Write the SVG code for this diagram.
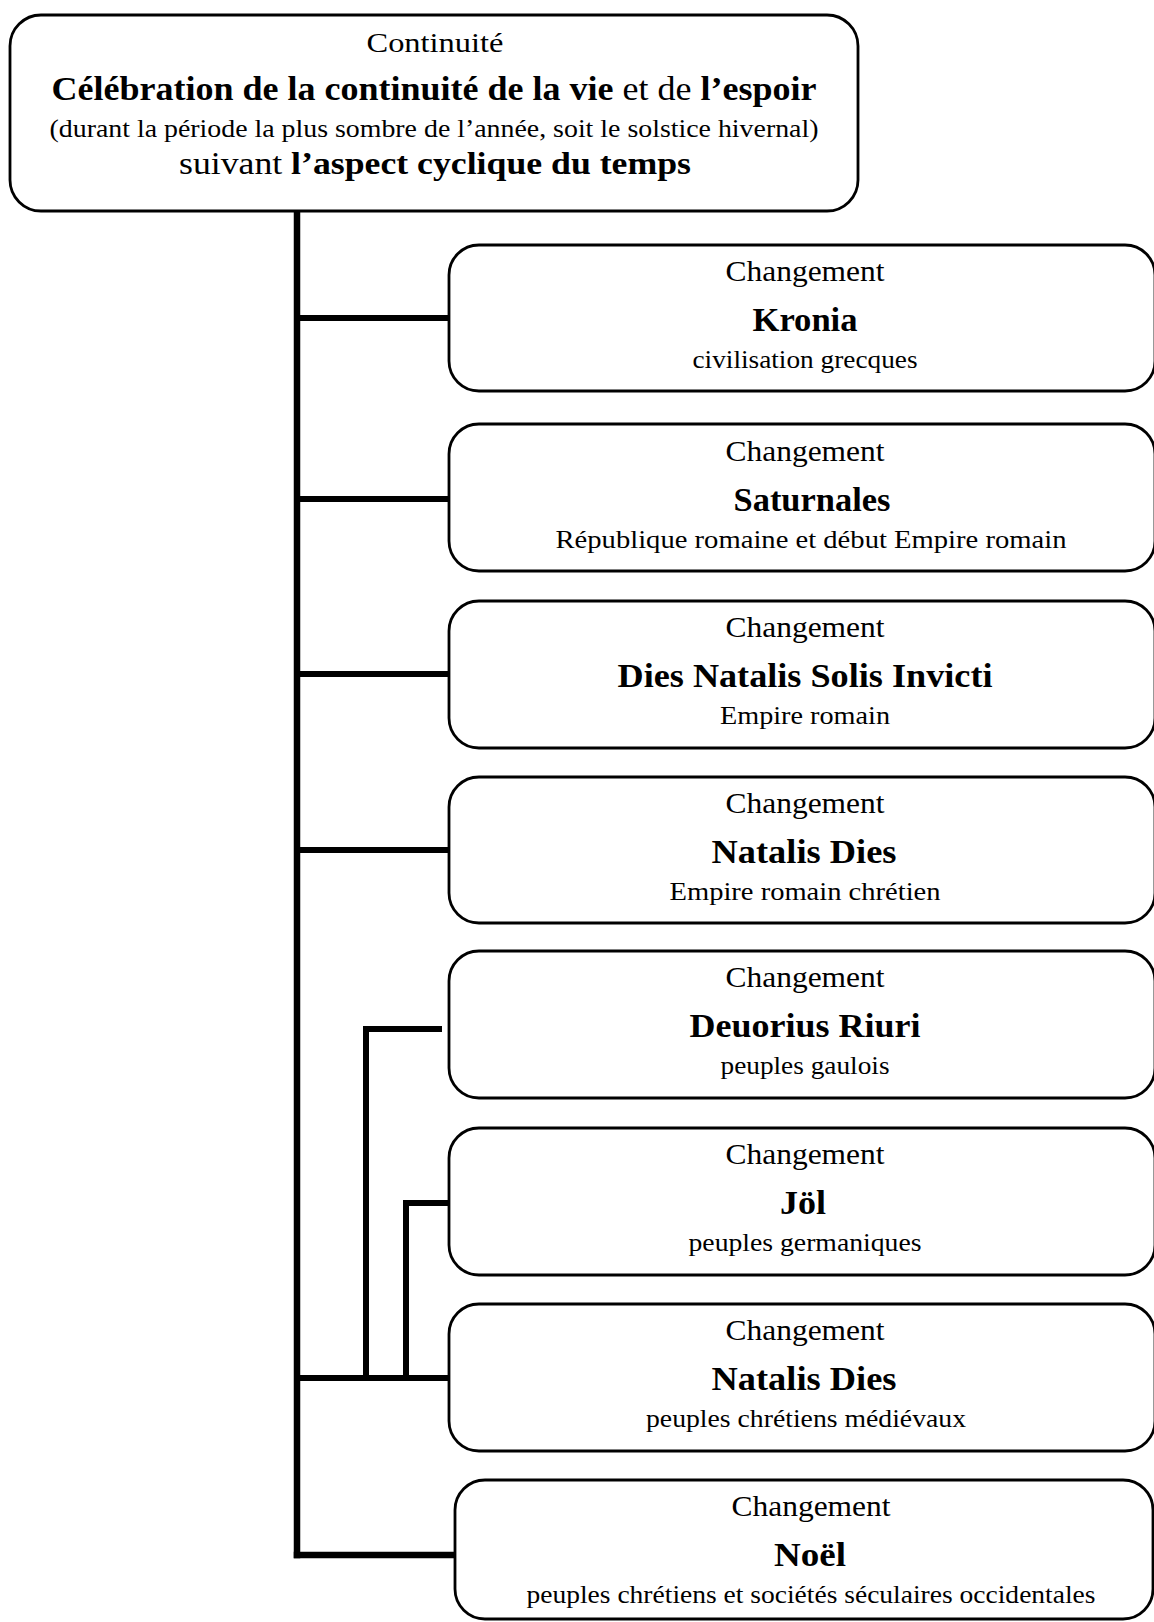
<svg xmlns="http://www.w3.org/2000/svg" width="1154" height="1622" viewBox="0 0 1154 1622">
<style>
.box{fill:#fff;stroke:#000;stroke-width:2.8}
text{font-family:"Liberation Serif","Times New Roman",serif;fill:#000;text-anchor:middle}
.ch{font-size:29px}
.ti{font-size:33px;font-weight:bold}
.su{font-size:26px}
.b{font-weight:bold}
.con{stroke:#000;fill:none;stroke-linecap:square}
</style>
<rect width="1154" height="1622" fill="#fff"/>
<g id="connectors" class="con">
<line x1="297" y1="211" x2="297" y2="1555" stroke-width="6.5"/>
<line x1="297" y1="318" x2="448" y2="318" stroke-width="6"/>
<line x1="297" y1="499" x2="448" y2="499" stroke-width="6"/>
<line x1="297" y1="674" x2="448" y2="674" stroke-width="6"/>
<line x1="297" y1="850" x2="448" y2="850" stroke-width="6"/>
<line x1="297" y1="1378" x2="448" y2="1378" stroke-width="6"/>
<line x1="297" y1="1555" x2="454" y2="1555" stroke-width="6.5"/>
<polyline points="366,1378 366,1029 442,1029" stroke-width="6" stroke-linecap="butt"/>
<polyline points="406,1378 406,1203 448,1203" stroke-width="6" stroke-linecap="butt"/>
</g>
<g id="n0">
<rect class="box" x="10" y="15" width="848" height="196" rx="31"/>
<text x="435" y="52" style="font-size:27px" textLength="137" lengthAdjust="spacingAndGlyphs">Continuité</text>
<text x="434" y="100" style="font-size:33px" textLength="765" lengthAdjust="spacingAndGlyphs"><tspan class="b">Célébration de la continuité de la vie</tspan> et de <tspan class="b">l’espoir</tspan></text>
<text x="434" y="137" style="font-size:25px" textLength="769" lengthAdjust="spacingAndGlyphs">(durant la période la plus sombre de l’année, soit le solstice hivernal)</text>
<text x="435" y="174" style="font-size:31px" textLength="512" lengthAdjust="spacingAndGlyphs">suivant <tspan class="b">l’aspect cyclique du temps</tspan></text>
</g>
<g id="n1">
<rect class="box" x="449" y="245" width="706" height="146" rx="30"/>
<text class="ch" x="805" y="281" textLength="159" lengthAdjust="spacingAndGlyphs">Changement</text>
<text class="ti" x="805" y="331" textLength="105" lengthAdjust="spacingAndGlyphs">Kronia</text>
<text class="su" x="805" y="368" textLength="225" lengthAdjust="spacingAndGlyphs">civilisation grecques</text>
</g>
<g id="n2">
<rect class="box" x="449" y="424" width="706" height="147" rx="30"/>
<text class="ch" x="805" y="461" textLength="159" lengthAdjust="spacingAndGlyphs">Changement</text>
<text class="ti" x="812" y="511" textLength="157" lengthAdjust="spacingAndGlyphs">Saturnales</text>
<text class="su" x="811" y="548" textLength="511" lengthAdjust="spacingAndGlyphs">République romaine et début Empire romain</text>
</g>
<g id="n3">
<rect class="box" x="449" y="601" width="706" height="147" rx="30"/>
<text class="ch" x="805" y="637" textLength="159" lengthAdjust="spacingAndGlyphs">Changement</text>
<text class="ti" x="805" y="687" textLength="375" lengthAdjust="spacingAndGlyphs">Dies Natalis Solis Invicti</text>
<text class="su" x="805" y="724" textLength="170" lengthAdjust="spacingAndGlyphs">Empire romain</text>
</g>
<g id="n4">
<rect class="box" x="449" y="777" width="706" height="146" rx="30"/>
<text class="ch" x="805" y="813" textLength="159" lengthAdjust="spacingAndGlyphs">Changement</text>
<text class="ti" x="804" y="863" textLength="185" lengthAdjust="spacingAndGlyphs">Natalis Dies</text>
<text class="su" x="805" y="900" textLength="271" lengthAdjust="spacingAndGlyphs">Empire romain chrétien</text>
</g>
<g id="n5">
<rect class="box" x="449" y="951" width="706" height="147" rx="30"/>
<text class="ch" x="805" y="987" textLength="159" lengthAdjust="spacingAndGlyphs">Changement</text>
<text class="ti" x="805" y="1037" textLength="231" lengthAdjust="spacingAndGlyphs">Deuorius Riuri</text>
<text class="su" x="805" y="1074" textLength="169" lengthAdjust="spacingAndGlyphs">peuples gaulois</text>
</g>
<g id="n6">
<rect class="box" x="449" y="1128" width="706" height="147" rx="30"/>
<text class="ch" x="805" y="1164" textLength="159" lengthAdjust="spacingAndGlyphs">Changement</text>
<text class="ti" x="803" y="1214" textLength="46" lengthAdjust="spacingAndGlyphs">Jöl</text>
<text class="su" x="805" y="1251" textLength="233" lengthAdjust="spacingAndGlyphs">peuples germaniques</text>
</g>
<g id="n7">
<rect class="box" x="449" y="1304" width="706" height="147" rx="30"/>
<text class="ch" x="805" y="1340" textLength="159" lengthAdjust="spacingAndGlyphs">Changement</text>
<text class="ti" x="804" y="1390" textLength="185" lengthAdjust="spacingAndGlyphs">Natalis Dies</text>
<text class="su" x="806" y="1427" textLength="320" lengthAdjust="spacingAndGlyphs">peuples chrétiens médiévaux</text>
</g>
<g id="n8">
<rect class="box" x="455" y="1480" width="698" height="139" rx="30"/>
<text class="ch" x="811" y="1516" textLength="159" lengthAdjust="spacingAndGlyphs">Changement</text>
<text class="ti" x="810" y="1566" textLength="72" lengthAdjust="spacingAndGlyphs">Noël</text>
<text class="su" x="811" y="1603" textLength="569" lengthAdjust="spacingAndGlyphs">peuples chrétiens et sociétés séculaires occidentales</text>
</g>
</svg>
